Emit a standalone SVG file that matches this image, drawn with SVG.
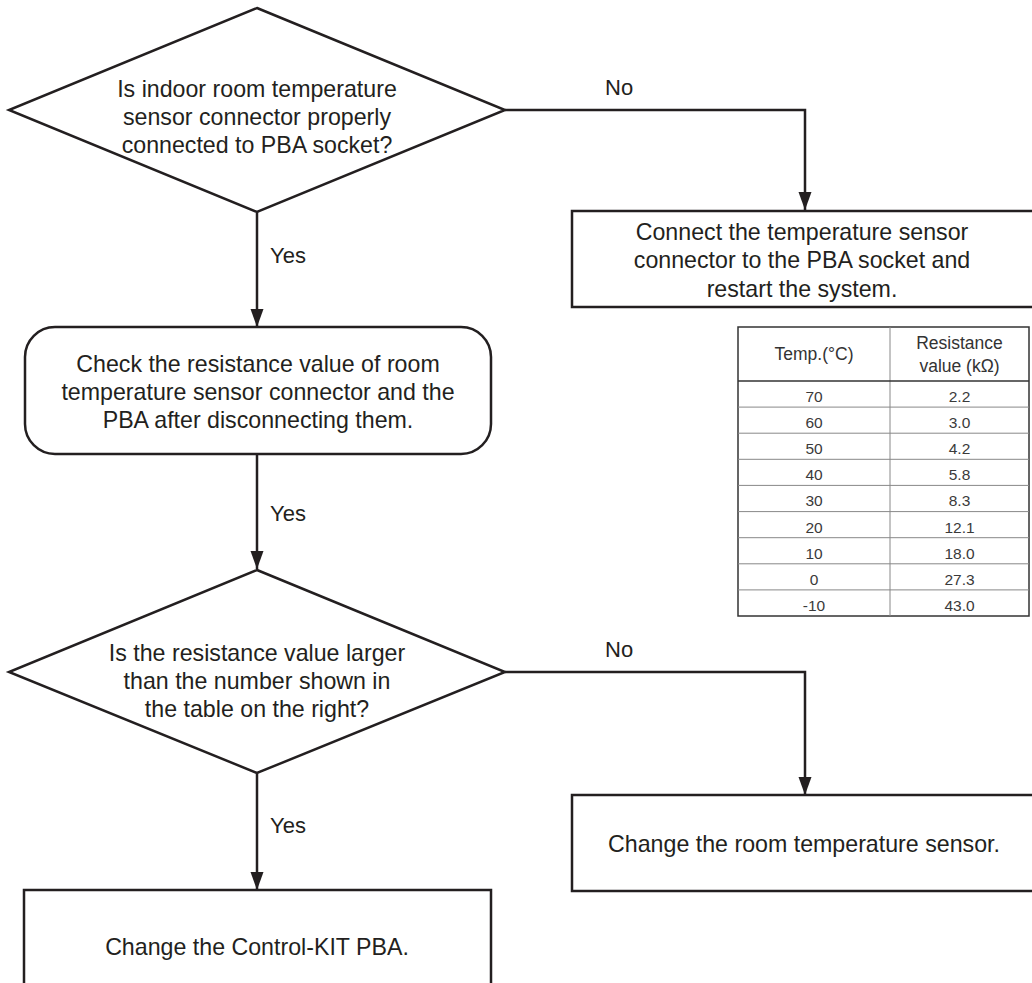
<svg xmlns="http://www.w3.org/2000/svg" width="1032" height="983" viewBox="0 0 1032 983">
<style>
.shape{fill:#fff;stroke:#231f20;stroke-width:2.5}
.conn{fill:none;stroke:#231f20;stroke-width:2.5;marker-end:url(#arr)}
.t{font-family:"Liberation Sans",Arial,sans-serif;font-size:23.2px;fill:#231f20;text-anchor:middle}
.lbl{font-family:"Liberation Sans",Arial,sans-serif;font-size:22px;fill:#231f20}
.th{font-family:"Liberation Sans",Arial,sans-serif;font-size:17.5px;fill:#333;text-anchor:middle}
.td{font-family:"Liberation Sans",Arial,sans-serif;font-size:15.5px;fill:#3a3a3a;text-anchor:middle}
.grid{stroke:#888;stroke-width:1}
.outer{fill:#fff;stroke:#333;stroke-width:1.5}
</style>
<defs>
<marker id="arr" markerUnits="userSpaceOnUse" markerWidth="19" markerHeight="14" refX="18" refY="7" orient="auto" viewBox="0 0 19 14">
<path d="M0,0.5 L18,7 L0,13.5 Z" fill="#231f20"/>
</marker>
</defs>
<g id="connectors">
<path class="conn" d="M505,110 H805 V210"/>
<path class="conn" d="M257,212 V327"/>
<path class="conn" d="M257,454 V569"/>
<path class="conn" d="M505,672 H805 V795"/>
<path class="conn" d="M257,773 V890"/>
<text class="lbl" x="605" y="95">No</text>
<text class="lbl" x="270" y="263">Yes</text>
<text class="lbl" x="270" y="521">Yes</text>
<text class="lbl" x="605" y="657">No</text>
<text class="lbl" x="270" y="833">Yes</text>
</g>
<g id="q1">
<polygon class="shape" points="257,8 505,110 257,212 9,110"/>
<text class="t" x="257" y="97">Is indoor room temperature</text>
<text class="t" x="257" y="125">sensor connector properly</text>
<text class="t" x="257" y="153">connected to PBA socket?</text>
</g>
<g id="connect">
<rect class="shape" x="572" y="211" width="470" height="96"/>
<text class="t" x="802" y="240">Connect the temperature sensor</text>
<text class="t" x="802" y="268">connector to the PBA socket and</text>
<text class="t" x="802" y="297">restart the system.</text>
</g>
<g id="check">
<rect class="shape" x="25" y="327" width="466" height="127" rx="30" ry="30"/>
<text class="t" x="258" y="372">Check the resistance value of room</text>
<text class="t" x="258" y="400">temperature sensor connector and the</text>
<text class="t" x="258" y="428">PBA after disconnecting them.</text>
</g>
<g id="q2">
<polygon class="shape" points="257,570 505,672 257,773 9,672"/>
<text class="t" x="257" y="661">Is the resistance value larger</text>
<text class="t" x="257" y="689">than the number shown in</text>
<text class="t" x="257" y="717">the table on the right?</text>
</g>
<g id="sensor">
<rect class="shape" x="572" y="795" width="470" height="96"/>
<text class="t" x="804" y="852">Change the room temperature sensor.</text>
</g>
<g id="pba">
<rect class="shape" x="24" y="890" width="467" height="110"/>
<text class="t" x="257" y="955">Change the Control-KIT PBA.</text>
</g>
<g id="table">
<rect class="outer" x="738" y="327" width="291" height="289"/>
<line class="grid" x1="890" y1="327" x2="890" y2="616"/>
<line x1="738" y1="381" x2="1029" y2="381" stroke="#333" stroke-width="1.5"/>
<line class="grid" x1="738" y1="407.1" x2="1029" y2="407.1"/>
<line class="grid" x1="738" y1="433.2" x2="1029" y2="433.2"/>
<line class="grid" x1="738" y1="459.3" x2="1029" y2="459.3"/>
<line class="grid" x1="738" y1="485.4" x2="1029" y2="485.4"/>
<line class="grid" x1="738" y1="511.6" x2="1029" y2="511.6"/>
<line class="grid" x1="738" y1="537.7" x2="1029" y2="537.7"/>
<line class="grid" x1="738" y1="563.8" x2="1029" y2="563.8"/>
<line class="grid" x1="738" y1="589.9" x2="1029" y2="589.9"/>
<text class="th" x="814" y="360">Temp.(°C)</text>
<text class="th" x="959.5" y="349">Resistance</text>
<text class="th" x="959.5" y="372">value (kΩ)</text>
<g class="td">
<text x="814" y="402">70</text><text x="959.5" y="402">2.2</text>
<text x="814" y="428.1">60</text><text x="959.5" y="428.1">3.0</text>
<text x="814" y="454.2">50</text><text x="959.5" y="454.2">4.2</text>
<text x="814" y="480.3">40</text><text x="959.5" y="480.3">5.8</text>
<text x="814" y="506.4">30</text><text x="959.5" y="506.4">8.3</text>
<text x="814" y="532.6">20</text><text x="959.5" y="532.6">12.1</text>
<text x="814" y="558.7">10</text><text x="959.5" y="558.7">18.0</text>
<text x="814" y="584.8">0</text><text x="959.5" y="584.8">27.3</text>
<text x="814" y="610.9">-10</text><text x="959.5" y="610.9">43.0</text>
</g>
</g>
</svg>
